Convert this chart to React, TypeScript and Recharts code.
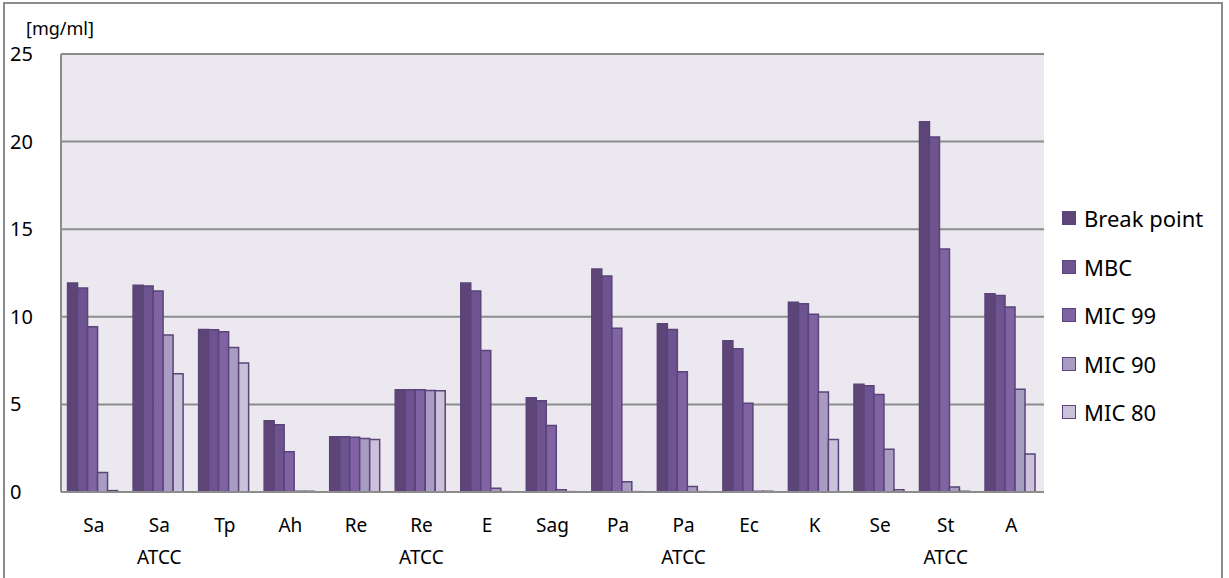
import { BarChart, Bar, CartesianGrid, XAxis, YAxis, Legend } from 'recharts';

const categories = ['Sa', 'Sa ATCC', 'Tp', 'Ah', 'Re', 'Re ATCC', 'E', 'Sag', 'Pa', 'Pa ATCC', 'Ec', 'K', 'Se', 'St ATCC', 'A'];

const breakPoint = [11.93, 11.8, 9.28, 4.07, 3.16, 5.84, 11.93, 5.38, 12.73, 9.61, 8.64, 10.83, 6.15, 21.14, 11.32];
const mbc = [11.64, 11.76, 9.26, 3.84, 3.16, 5.84, 11.47, 5.21, 12.33, 9.28, 8.18, 10.75, 6.07, 20.26, 11.21];
const mic99 = [9.43, 11.47, 9.15, 2.3, 3.12, 5.84, 8.07, 3.79, 9.34, 6.87, 5.06, 10.14, 5.57, 13.87, 10.56];
const mic90 = [1.12, 8.96, 8.25, 0.04, 3.06, 5.8, 0.21, 0.13, 0.59, 0.32, 0.04, 5.71, 2.44, 0.29, 5.86];
const mic80 = [0.08, 6.75, 7.36, 0.04, 2.99, 5.78, 0.02, 0.02, 0.02, 0.02, 0.04, 3.0, 0.13, 0.04, 2.17];

const yTicks = [0, 5, 10, 15, 20, 25];

const series = [
  { key: 'bp', name: 'Break point', values: breakPoint, color: '#5d4677' },
  { key: 'mbc', name: 'MBC', values: mbc, color: '#6d5390' },
  { key: 'mic99', name: 'MIC 99', values: mic99, color: '#7f63a3' },
  { key: 'mic90', name: 'MIC 90', values: mic90, color: '#a99cc2' },
  { key: 'mic80', name: 'MIC 80', values: mic80, color: '#c9c2da' },
];

const STROKE = '#5a4479';
const FONT = '"Noto Sans", sans-serif';

const data = categories.map((name, i) => {
  const row: { [k: string]: string | number } = { name };
  series.forEach(s => { row[s.key] = s.values[i] });
  return row;
});

const CatTick = (props: any) => {
  const { x, y, payload } = props;
  const [a, b] = String(payload.value).split(' ');
  return (
    <g>
      <text x={x} y={y + 32} textAnchor="middle" fontSize={19} fill="#000" fontFamily={FONT}>{a}</text>
      {b && <text x={x} y={y + 64} textAnchor="middle" fontSize={19} fill="#000" fontFamily={FONT}>{b}</text>}
    </g>
  );
};

const ValTick = (props: any) => {
  const { y, payload } = props;
  return <text x={10} y={y + 7} textAnchor="start" fontSize={20} fill="#000" fontFamily={FONT}>{payload.value}</text>;
};

const LegendBox = () => (
  <div style={{ fontFamily: FONT, fontSize: 22, color: '#000' }}>
    {series.map(s => (
      <div key={s.key} style={{ display: 'flex', alignItems: 'center', height: 48.5 }}>
        <span style={{ width: 12, height: 12, background: s.color, border: `1.5px solid ${STROKE}`, marginRight: 8, display: 'inline-block' }} />
        <span>{s.name}</span>
      </div>
    ))}
  </div>
);

const App = () => {
  return (
    <div style={{ position: 'fixed', left: 0, top: 0, width: 1229, height: 578, background: '#fff' }}>
      <BarChart
        width={1229}
        height={578}
        data={data}
        margin={{ top: 54, right: 25, left: 0, bottom: 0 }}
        barCategoryGap="10%"
        barGap={0}
      >
        <CartesianGrid vertical={false} fill="#ebe9ef" stroke="#8c8c8c" strokeWidth={2} />
        <XAxis
          dataKey="name"
          height={86}
          interval={0}
          tick={<CatTick />}
          tickLine={false}
          axisLine={{ stroke: '#8c8c8c', strokeWidth: 2 }}
        />
        <YAxis
          width={61}
          domain={[0, 25]}
          ticks={yTicks}
          tick={<ValTick />}
          tickLine={false}
          axisLine={{ stroke: '#8c8c8c', strokeWidth: 2 }}
          label={{
            value: '[mg/ml]',
            content: () => <text x={26} y={35} fontSize={18} fontFamily={FONT} fill="#000">[mg/ml]</text>,
          }}
        />
        {series.map(s => (
          <Bar key={s.key} dataKey={s.key} name={s.name} fill={s.color} stroke={STROKE} strokeWidth={1.5} isAnimationActive={false} />
        ))}
        <Legend
          layout="vertical"
          align="right"
          verticalAlign="top"
          content={<LegendBox />}
          wrapperStyle={{ left: 1062, top: 194, width: 160 }}
        />
      </BarChart>
      <div style={{ position: 'absolute', left: 3, top: 2, width: 1220, height: 620, boxSizing: 'border-box', border: '2px solid #8c8c8c', pointerEvents: 'none' }} />
    </div>
  );
};

export default App;
